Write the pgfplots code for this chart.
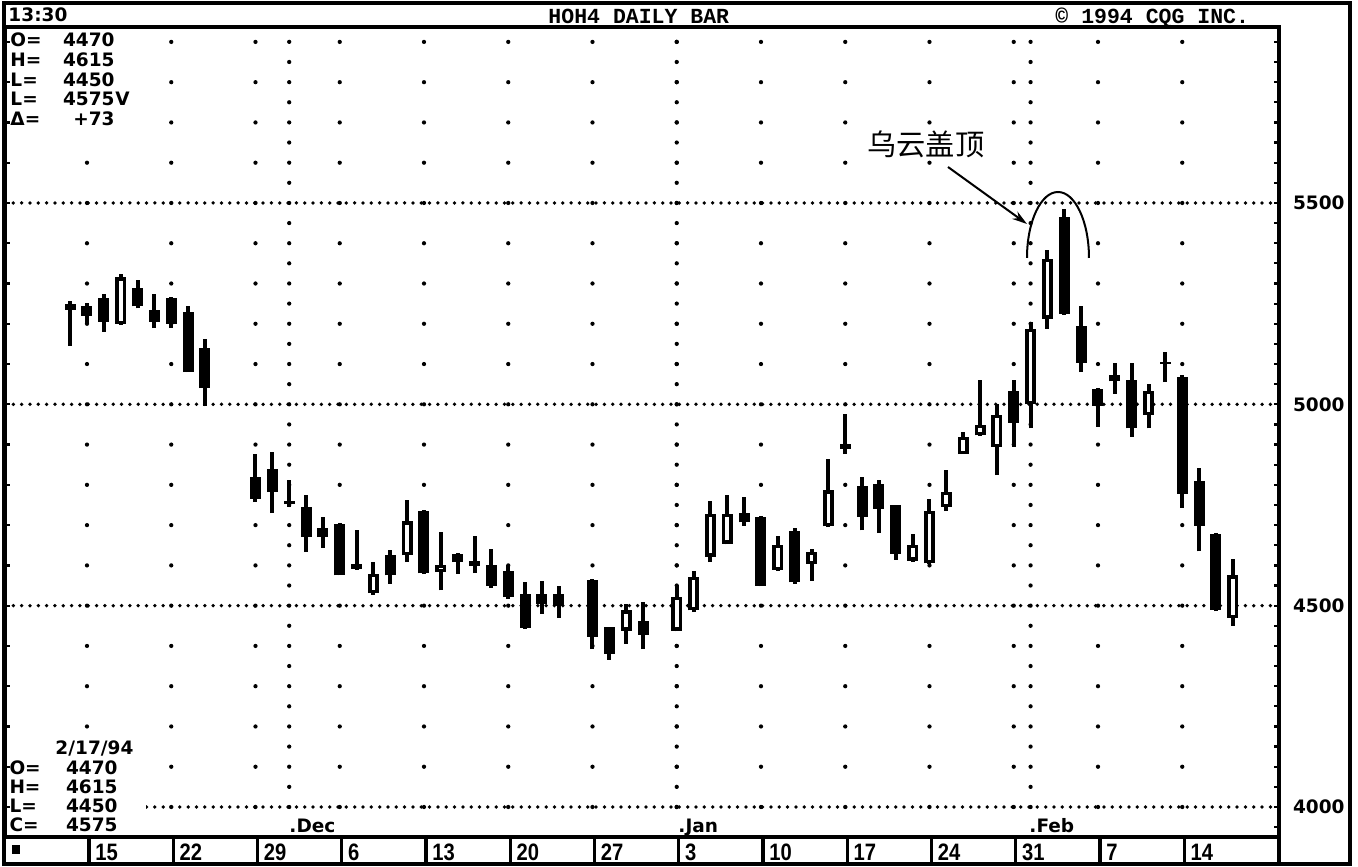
\documentclass[border=0pt]{standalone}
\usepackage{pgfplots}
\pgfplotsset{compat=1.18}
\usepackage{pgfplotstable}
\usetikzlibrary{arrows.meta}
\usepackage{fontspec}
\setmainfont{DejaVu Sans}
\newfontfamily\labfont{Liberation Sans}
\newfontfamily\monofont{Liberation Mono}
\newfontfamily\cjk{Noto Sans CJK SC}

\newcommand{\infofont}{\bfseries\fontsize{7.4}{8}\selectfont}
\newcommand{\stripfont}{\labfont\bfseries\fontsize{9.5}{10}\selectfont}
\newcommand{\headfont}{\monofont\bfseries\fontsize{8.6}{9}\selectfont}

% day slot: 0 = Mon 15 Nov 1993, one slot per weekday (holidays stay empty)
% falling days, solid bodies
\pgfplotstableread{
d  O    H    L    C
-1 5250 5256 5145 5235
0  5245 5252 5200 5220
1  5265 5273 5180 5205
3  5290 5308 5238 5243
4  5233 5273 5189 5205
5  5265 5266 5190 5200
6  5230 5245 5080 5080
7  5140 5163 4997 5040
10 4820 4876 4757 4765
11 4840 4881 4730 4782
12 4760 4811 4746 4752
13 4746 4774 4633 4670
14 4693 4720 4644 4670
15 4703 4705 4575 4575
16 4603 4688 4589 4592
18 4627 4637 4554 4575
20 4736 4737 4579 4580
22 4629 4631 4579 4608
23 4610 4672 4581 4598
24 4602 4641 4544 4550
25 4587 4602 4517 4521
26 4529 4558 4443 4445
27 4528 4561 4480 4503
28 4528 4550 4470 4500
30 4564 4566 4393 4423
31 4446 4448 4366 4381
33 4461 4510 4392 4428
39 4730 4771 4699 4707
40 4720 4722 4548 4550
42 4685 4693 4555 4558
45 4902 4977 4876 4890
46 4796 4819 4687 4720
47 4801 4811 4680 4741
48 4749 4750 4614 4629
55 5033 5060 4894 4954
58 5466 5486 5223 5225
59 5194 5244 5080 5103
60 5039 5040 4944 4997
61 5072 5103 5026 5057
62 5060 5103 4919 4940
64 5105 5130 5055 5100
65 5068 5072 4743 4778
66 4809 4843 4635 4699
67 4679 4680 4486 4490
}\blackbars

% rising days, hollow bodies
\pgfplotstableread{
d  O    H    L    C
2  5200 5323 5198 5315
17 4531 4608 4527 4579
19 4625 4763 4608 4709
21 4583 4683 4538 4602
32 4438 4504 4405 4488
35 4438 4551 4436 4521
36 4488 4587 4484 4571
37 4622 4760 4608 4727
38 4654 4776 4652 4727
41 4589 4674 4587 4651
43 4604 4641 4562 4633
44 4697 4865 4695 4786
49 4612 4677 4608 4650
50 4605 4766 4603 4735
51 4745 4836 4735 4782
52 4876 4931 4876 4919
53 4923 5060 4922 4948
54 4894 5002 4824 4973
56 5000 5205 4940 5188
57 5213 5383 5188 5362
63 4973 5050 4940 5033
68 4470 4615 4450 4575
}\whitebars

\begin{document}
\begin{tikzpicture}
\useasboundingbox (0,0) rectangle (543.2pt,-346.8pt);
\fill[white] (0,0) rectangle (543.2pt,-346.8pt);

\begin{axis}[
  at={(2pt,-334.8pt)}, anchor=south west,
  width=509.6pt, height=324pt, scale only axis,
  xmin=-4.866, xmax=70.742, ymin=3925.5, ymax=5937,
  axis line style={line width=1.3pt},
  xtick=\empty,
  ytick={4000,4500,5000,5500},
  minor ytick={3950,4000,...,5900},
  ytick pos=right, yticklabel pos=right, tick align=inside,
  major tick length=2.2pt, minor tick length=2.2pt,
  tick style={black, line width=0.9pt},
  ymajorgrids,
  major grid style={black, line width=1.5pt, line cap=round, dash pattern=on 0pt off 3.33pt},
  /pgf/number format/assume math mode=true,
  /pgf/number format/1000 sep={},
  yticklabel style={font=\infofont, anchor=west, inner sep=0pt, xshift=5.4pt},
  clip=false,
]
% dotted week columns (every 100) and month columns (every 50)
\pgfplotsinvokeforeach{0,5,...,65}{
  \draw[line width=1.7pt, line cap=round, dash pattern=on 0pt off 16.107pt]
    (axis cs:#1,4000) -- (axis cs:#1,5905);
}
\pgfplotsinvokeforeach{12,35,56}{
  \draw[line width=1.7pt, line cap=round, dash pattern=on 0pt off 8.054pt]
    (axis cs:#1,4000) -- (axis cs:#1,5905);
}

% wicks
\addplot[draw=none, mark=none, error bars/.cd, y dir=plus, y explicit, error mark=none,
  error bar style={draw=black, line width=1.6pt, line cap=butt}]
  table[x=d, y=L, y error plus expr=\thisrow{H}-\thisrow{L}] {\blackbars};
\addplot[draw=none, mark=none, error bars/.cd, y dir=plus, y explicit, error mark=none,
  error bar style={draw=black, line width=1.6pt, line cap=butt}]
  table[x=d, y=L, y error plus expr=\thisrow{H}-\thisrow{L}] {\whitebars};
% bodies
\addplot[draw=none, mark=none, error bars/.cd, y dir=plus, y explicit, error mark=none,
  error bar style={draw=black, line width=4.4pt, line cap=butt}]
  table[x=d, y=C, y error plus expr=\thisrow{O}-\thisrow{C}] {\blackbars};
\addplot[draw=none, mark=none, error bars/.cd, y dir=plus, y explicit, error mark=none,
  error bar style={draw=black, line width=4.4pt, line cap=butt}]
  table[x=d, y=O, y error plus expr=\thisrow{C}-\thisrow{O}] {\whitebars};
\addplot[draw=none, mark=none, error bars/.cd, y dir=plus, y explicit, error mark=none,
  error bar style={draw=white, line width=1.5pt, line cap=butt}]
  table[x=d, y expr=\thisrow{O}+8, y error plus expr=\thisrow{C}-\thisrow{O}-16] {\whitebars};
\end{axis}

\begin{scope}[x=0.4pt, y=-0.4pt]
  % outer frame and header
  \draw[line width=1.5pt] (4,3) rectangle (1350,864);
  \node[anchor=base west, inner sep=0pt, font=\infofont] at (8,22) {13:30};
  \node[anchor=base west, inner sep=0pt, font=\headfont] at (548,24) {HOH4 DAILY BAR};
  \node[anchor=base west, inner sep=0pt, font=\headfont] at (1055,24) {© 1994 CQG INC.};

  % quote box, top left
  \fill[white] (8,29) rectangle (132,129);
  \begin{scope}[every node/.style={inner sep=0pt, font=\infofont}]
    \node[anchor=base west] at (10,47) {O=};  \node[anchor=base east] at (115,47) {4470};
    \node[anchor=base west] at (10,67) {H=};  \node[anchor=base east] at (115,67) {4615};
    \node[anchor=base west] at (10,87) {L=};  \node[anchor=base east] at (115,87) {4450};
    \node[anchor=base west] at (10,106) {L=}; \node[anchor=base east] at (115,106) {4575};
    \node[anchor=base west] at (115,106) {V};
    \node[anchor=base west] at (10,126) {Δ=}; \node[anchor=base east] at (115,126) {+73};
  \end{scope}

  % quote box, bottom left
  \fill[white] (8,737) rectangle (146,835);
  \begin{scope}[every node/.style={inner sep=0pt, font=\infofont}]
    \node[anchor=base west] at (55,755) {2/17/94};
    \node[anchor=base west] at (9,775) {O=}; \node[anchor=base east] at (118,775) {4470};
    \node[anchor=base west] at (9,794) {H=}; \node[anchor=base east] at (118,794) {4615};
    \node[anchor=base west] at (9,813) {L=}; \node[anchor=base east] at (118,813) {4450};
    \node[anchor=base west] at (9,832) {C=}; \node[anchor=base east] at (118,832) {4575};
    \node[anchor=base west] at (289,833) {.Dec};
    \node[anchor=base west] at (678,833) {.Jan};
    \node[anchor=base west] at (1029,833) {.Feb};
  \end{scope}

  % left axis ticks every 100
  \foreach \k in {0,...,19}
    \draw[line width=0.9pt] (5,{807-40.268*\k}) -- ++(5,0);

  % date strip
  \draw[line width=1.3pt] (1279,837) -- (1279,864);
  \foreach \k in {0,...,13}
    \draw[line width=1.3pt] ({89+84.25*\k},837) -- ++(0,27);
  \fill (12,845) rectangle (20,854);
  \foreach \k/\t in {0/15,1/22,2/29,3/6,4/13,5/20,6/27,7/3,8/10,9/17,10/24,11/31,12/7,13/14}
    \node[anchor=base west, inner sep=0pt, font=\stripfont, xscale=0.85] at ({95+84.25*\k},861) {\t};

  % annotation: dark cloud cover
  \node[font=\cjk\fontsize{11.7}{12}\selectfont] at (926,144) {乌云盖顶};
  \draw[line width=0.8pt, -{Stealth[length=6pt,width=3.6pt]}] (948,167) -- (1027,224);
  \draw[line width=0.8pt] (1027,258) arc[start angle=180, end angle=360, x radius=31, y radius=66];
\end{scope}
\end{tikzpicture}
\end{document}
